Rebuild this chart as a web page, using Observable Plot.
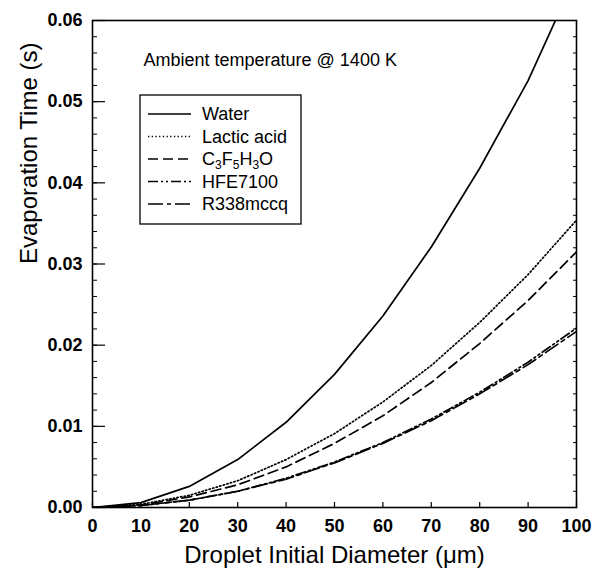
<!DOCTYPE html>
<html><head><meta charset="utf-8">
<script src="https://cdn.jsdelivr.net/npm/d3@7"></script>
<script src="https://cdn.jsdelivr.net/npm/@observablehq/plot@0.6"></script>
<style>
body{margin:0;background:#fff}
#chart{position:relative;width:593px;height:574px}
</style>
</head><body><div id="chart"></div>
<script>
// ---- data ----
const diameters = [0, 10, 20, 30, 40, 50, 60, 70, 80, 90, 100];
const water      = [0, 0.0006, 0.0026, 0.0059, 0.0105, 0.0164, 0.0236, 0.0321, 0.0418, 0.0526, 0.0657];
const lacticAcid = [0, 0.0004, 0.0015, 0.0033, 0.0059, 0.0091, 0.0130, 0.0175, 0.0228, 0.0287, 0.0354];
const c3f5h3o    = [0, 0.0003, 0.0013, 0.0028, 0.0050, 0.0079, 0.0113, 0.0154, 0.0202, 0.0255, 0.0315];
const hfe7100    = [0, 0.00025, 0.0009, 0.0020, 0.0036, 0.0056, 0.0080, 0.0109, 0.0142, 0.0179, 0.0221];
const r338mccq   = [0, 0.00025, 0.0009, 0.0020, 0.0035, 0.0055, 0.0079, 0.0107, 0.0140, 0.0176, 0.0217];
const seriesNames = ["Water", "Lactic acid", "C3F5H3O", "HFE7100", "R338mccq"];
const xTickValues = [0, 10, 20, 30, 40, 50, 60, 70, 80, 90, 100];
const yTickValues = [0.00, 0.01, 0.02, 0.03, 0.04, 0.05, 0.06];
const xLabel = "Droplet Initial Diameter (\u03BCm)";
const yLabel = "Evaporation Time (s)";
const annotation = "Ambient temperature @ 1400 K";

// ---- styles ----
const dashes = ["none", "1.3,2.4", "10,5", "10,3,2,3,2,3", "15,4,4,4"];
const W = 593, H = 574, mL = 92, mR = 17, mT = 20, mB = 67;
const innerW = W - mL - mR, innerH = H - mT - mB;
const font = "'Liberation Sans', Arial, Helvetica, sans-serif";

const values = [water, lacticAcid, c3f5h3o, hfe7100, r338mccq];
const rows = seriesNames.flatMap((s, i) => diameters.map((d, j) => ({series: s, d, t: values[i][j]})));
const yMinor = d3.range(0, 0.0601, 0.002);

const lineMarks = seriesNames.map((s, i) =>
  Plot.line(rows.filter(r => r.series === s), {
    x: "d", y: "t", stroke: "black", strokeWidth: 1.7,
    strokeDasharray: dashes[i] === "none" ? null : dashes[i], clip: true
  }));

const plot = Plot.plot({
  width: W, height: H,
  marginLeft: mL, marginRight: mR, marginTop: mT, marginBottom: mB,
  style: {fontFamily: font, background: "#fff", color: "black"},
  x: {domain: [0, 100]},
  y: {domain: [0, 0.06]},
  marks: [
    ...lineMarks,
    Plot.tickY(yMinor, {y: d => d, insetRight: innerW - 5, stroke: "black", strokeWidth: 1}),
    Plot.tickY(yTickValues, {y: d => d, insetRight: innerW - 13, stroke: "black", strokeWidth: 1.2}),
    Plot.tickY(yMinor, {y: d => d, insetLeft: innerW - 3, stroke: "black", strokeWidth: 1}),
    Plot.tickX(xTickValues, {x: d => d, insetTop: innerH - 5, stroke: "black", strokeWidth: 1.2}),
    Plot.frame({stroke: "black", strokeWidth: 1.6}),
    Plot.axisX({ticks: xTickValues, tickSize: 0, tickPadding: 12, fontSize: 18, fontWeight: "bold", label: null}),
    Plot.axisY({ticks: yTickValues, tickSize: 0, tickPadding: 10, fontSize: 18, fontWeight: "bold",
      tickFormat: d3.format(".2f"), label: null}),
    Plot.text([xLabel], {frameAnchor: "bottom", dy: 48, lineAnchor: "middle", fontSize: 24, fill: "black"}),
    Plot.text([yLabel], {frameAnchor: "left", dx: -63, rotate: -90, lineAnchor: "middle", fontSize: 24, fill: "black"}),
    Plot.text([annotation], {frameAnchor: "top-left", dx: 51, dy: 40, textAnchor: "start", lineAnchor: "middle", fontSize: 18, fill: "black"})
  ]
});
document.getElementById("chart").appendChild(plot);

// ---- legend ----
const svg = d3.select(plot);
const lg = svg.append("g").attr("font-family", font).attr("font-size", 18).attr("text-anchor", "start");
const box = {x: 140, y: 95, w: 161, h: 129};
lg.append("rect").attr("x", box.x).attr("y", box.y).attr("width", box.w).attr("height", box.h)
  .attr("fill", "white").attr("stroke", "black").attr("stroke-width", 1.3);
seriesNames.forEach((s, i) => {
  const y = 114 + i * 22.5;
  lg.append("line").attr("x1", 148).attr("x2", 191).attr("y1", y).attr("y2", y)
    .attr("stroke", "black").attr("stroke-width", 1.7)
    .attr("stroke-dasharray", dashes[i] === "none" ? null : dashes[i]);
  const t = lg.append("text").attr("x", 202).attr("y", y + 6.3)
    .attr("fill", "black").attr("text-anchor", "start");
  if (s === "C3F5H3O") {
    const parts = [["C", 0], ["3", 1], ["F", 0], ["5", 1], ["H", 0], ["3", 1], ["O", 0]];
    let prev = 0;
    parts.forEach(([p, sub]) => {
      const shift = sub ? 4 : 0;
      t.append("tspan").attr("dy", shift - prev).attr("font-size", sub ? 12 : 18).text(p);
      prev = shift;
    });
  } else {
    t.text(s);
  }
});
</script>
</body></html>
